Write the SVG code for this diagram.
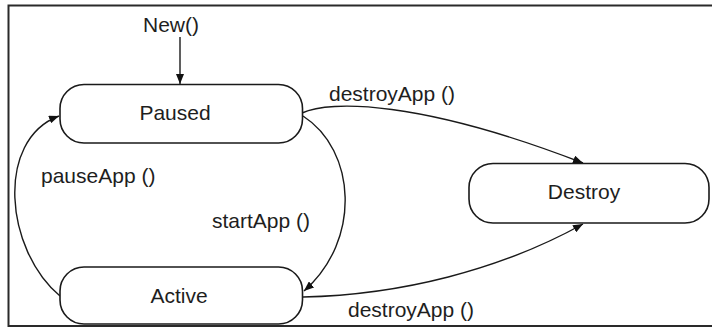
<svg xmlns="http://www.w3.org/2000/svg" width="712" height="331" viewBox="0 0 712 331">
  <style>
    .state rect { fill: #ffffff; stroke: #1a1a1a; stroke-width: 1.6; }
    text { font-family: "Liberation Sans", Arial, sans-serif; font-size: 21px; fill: #1e1e1e; }
    .edge { fill: none; stroke: #1a1a1a; stroke-width: 1.4; marker-end: url(#arrow); }
    .frame { stroke: #2a2a2a; stroke-width: 2; fill: none; }
  </style>
  <defs>
    <marker id="arrow" viewBox="0 0 10 8" refX="10" refY="4" markerWidth="10" markerHeight="8" markerUnits="userSpaceOnUse" orient="auto">
      <path d="M0,0 L10,4 L0,8 z" fill="#111"/>
    </marker>
  </defs>

  <rect width="712" height="331" fill="#ffffff"/>

  <!-- outer frame (open on the right) -->
  <path class="frame" d="M712,5.5 L8.5,5.5 L8.5,326 L712,326"/>

  <!-- transitions -->
  <g id="connectors">
    <path class="edge" d="M180,37 L180,84"/>
    <path class="edge" d="M302,113 C330,100 420,100 583,163"/>
    <path class="edge" d="M303,116 C356,150 362,240 304,291"/>
    <path class="edge" d="M60,296 C5,250 -5,140 59,116"/>
    <path class="edge" d="M303,297 C400,295 500,270 583,224"/>
    <text x="143" y="32">New()</text>
    <text x="329" y="101">destroyApp ()</text>
    <text x="41" y="183">pauseApp ()</text>
    <text x="212" y="228">startApp ()</text>
    <text x="348" y="317">destroyApp ()</text>
  </g>

  <g id="paused" class="state">
    <rect x="60" y="84.5" width="242.5" height="58.5" rx="24" ry="24"/>
    <text x="175" y="120" text-anchor="middle">Paused</text>
  </g>

  <g id="active" class="state">
    <rect x="60" y="267" width="242.5" height="57" rx="24" ry="24"/>
    <text x="179" y="303" text-anchor="middle">Active</text>
  </g>

  <g id="destroy" class="state">
    <rect x="469" y="163.5" width="240" height="59.5" rx="24" ry="24"/>
    <text x="584" y="199" text-anchor="middle">Destroy</text>
  </g>
</svg>
